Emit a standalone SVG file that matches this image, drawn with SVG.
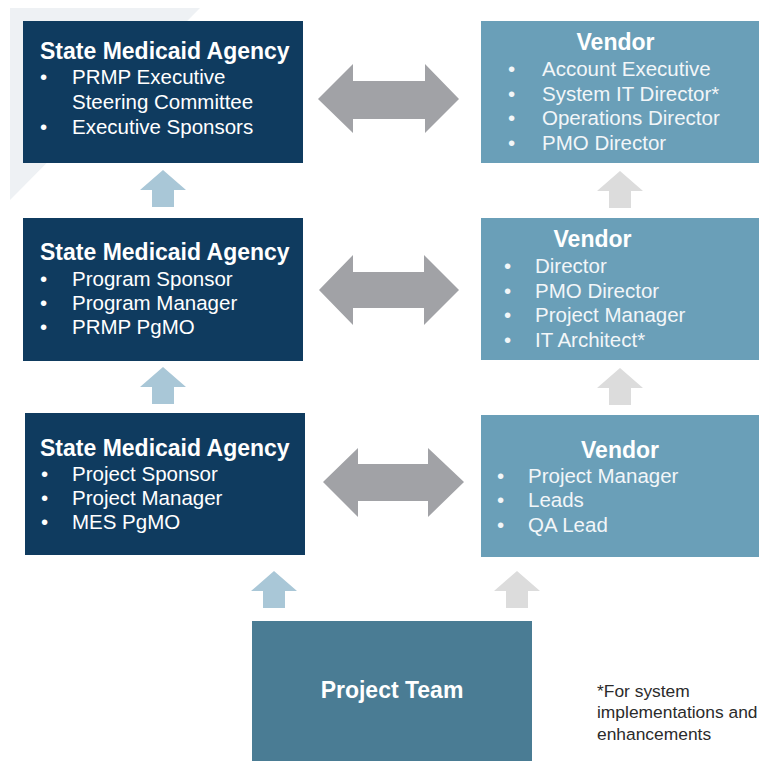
<svg xmlns="http://www.w3.org/2000/svg" width="759" height="761" viewBox="0 0 759 761">
  <style>
    .agency { fill: #0f3b5f; }
    .vendor { fill: #6a9fb8; }
    .team { fill: #4a7c94; }
    .title { font-family: "Liberation Sans", Arial, sans-serif; font-weight: bold; font-size: 23px; fill: #ffffff; }
    .item { font-family: "Liberation Sans", Arial, sans-serif; font-size: 20.5px; fill: #ffffff; }
    .vitem { font-family: "Liberation Sans", Arial, sans-serif; font-size: 20.5px; fill: #f2f6f8; }
    .note { font-family: "Liberation Sans", Arial, sans-serif; font-size: 17.4px; fill: #2b2b2b; }
    .dbl { fill: #a1a2a6; }
    .up-blue { fill: #a9c7d7; }
    .up-gray { fill: #dcdcdc; }
  </style>
  <defs>
    <!-- upward block arrow, tip at origin, 46 wide, 37 tall -->
    <polygon id="up" points="0,0 23,20 11,20 11,37 -11,37 -11,20 -23,20"/>
  </defs>

  <rect width="759" height="761" fill="#ffffff"/>
  <!-- faint backdrop wedge -->
  <polygon points="10,8 200,8 10,200" fill="#eef1f4"/>

  <g id="agency-exec">
    <rect class="agency" x="23" y="21" width="280" height="142"/>
    <text class="title" x="40" y="59">State Medicaid Agency</text>
    <text class="item" x="40" y="84">•</text>
    <text class="item" x="72" y="84">PRMP Executive</text>
    <text class="item" x="72" y="109">Steering Committee</text>
    <text class="item" x="40" y="134">•</text>
    <text class="item" x="72" y="134">Executive Sponsors</text>
  </g>

  <g id="agency-program">
    <rect class="agency" x="23" y="218" width="280" height="143"/>
    <text class="title" x="40" y="260">State Medicaid Agency</text>
    <text class="item" x="40" y="286">•</text>
    <text class="item" x="72" y="286">Program Sponsor</text>
    <text class="item" x="40" y="310">•</text>
    <text class="item" x="72" y="310">Program Manager</text>
    <text class="item" x="40" y="334">•</text>
    <text class="item" x="72" y="334">PRMP PgMO</text>
  </g>

  <g id="agency-project">
    <rect class="agency" x="25" y="413" width="280" height="142"/>
    <text class="title" x="40" y="456">State Medicaid Agency</text>
    <text class="item" x="41" y="481">•</text>
    <text class="item" x="72" y="481">Project Sponsor</text>
    <text class="item" x="41" y="505">•</text>
    <text class="item" x="72" y="505">Project Manager</text>
    <text class="item" x="41" y="529">•</text>
    <text class="item" x="72" y="529">MES PgMO</text>
  </g>

  <g id="vendor-exec">
    <rect class="vendor" x="481" y="21" width="279" height="142"/>
    <text class="title" x="615.5" y="50" text-anchor="middle">Vendor</text>
    <text class="vitem" x="508" y="76">•</text>
    <text class="vitem" x="542" y="76">Account Executive</text>
    <text class="vitem" x="508" y="101">•</text>
    <text class="vitem" x="542" y="101">System IT Director*</text>
    <text class="vitem" x="508" y="125">•</text>
    <text class="vitem" x="542" y="125">Operations Director</text>
    <text class="vitem" x="508" y="150">•</text>
    <text class="vitem" x="542" y="150">PMO Director</text>
  </g>

  <g id="vendor-program">
    <rect class="vendor" x="481" y="218" width="279" height="142"/>
    <text class="title" x="592.5" y="247" text-anchor="middle">Vendor</text>
    <text class="vitem" x="504" y="273">•</text>
    <text class="vitem" x="535" y="273">Director</text>
    <text class="vitem" x="504" y="298">•</text>
    <text class="vitem" x="535" y="298">PMO Director</text>
    <text class="vitem" x="504" y="322">•</text>
    <text class="vitem" x="535" y="322">Project Manager</text>
    <text class="vitem" x="504" y="347">•</text>
    <text class="vitem" x="535" y="347">IT Architect*</text>
  </g>

  <g id="vendor-project">
    <rect class="vendor" x="481" y="415" width="279" height="142"/>
    <text class="title" x="620" y="458" text-anchor="middle">Vendor</text>
    <text class="vitem" x="497" y="483">•</text>
    <text class="vitem" x="528" y="483">Project Manager</text>
    <text class="vitem" x="497" y="507">•</text>
    <text class="vitem" x="528" y="507">Leads</text>
    <text class="vitem" x="497" y="532">•</text>
    <text class="vitem" x="528" y="532">QA Lead</text>
  </g>

  <g id="project-team">
    <rect class="team" x="252" y="621" width="280" height="141"/>
    <text class="title" x="392" y="698" text-anchor="middle">Project Team</text>
  </g>

  <g id="footnote">
    <text class="note" x="597" y="697">*For system</text>
    <text class="note" x="597" y="718">implementations and</text>
    <text class="note" x="597" y="740">enhancements</text>
  </g>

  <g id="connectors">
    <!-- two-way links between agency and vendor tiers -->
    <polygon class="dbl" points="318,99 353,64 353,81 425,81 425,64 459,99 425,133 425,119 353,119 353,133"/>
    <polygon class="dbl" points="319,290 353,255 353,272 424,272 424,255 459,290 424,325 424,308 353,308 353,325"/>
    <polygon class="dbl" points="323,482 358,448 358,464 428,464 428,448 464,482 428,517 428,501 358,501 358,517"/>
    <!-- escalation arrows, agency side -->
    <use href="#up" class="up-blue" x="163" y="170"/>
    <use href="#up" class="up-blue" x="163" y="367"/>
    <use href="#up" class="up-blue" x="274" y="571"/>
    <!-- escalation arrows, vendor side -->
    <use href="#up" class="up-gray" x="620" y="171"/>
    <use href="#up" class="up-gray" x="620" y="368"/>
    <use href="#up" class="up-gray" x="517" y="571"/>
  </g>
</svg>
